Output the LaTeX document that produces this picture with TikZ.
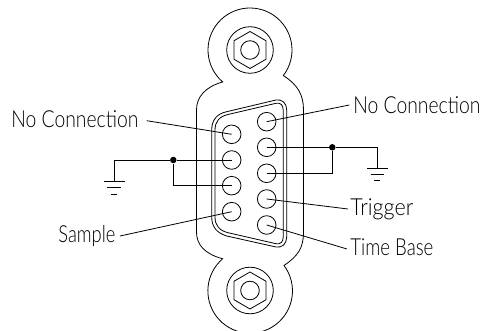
\documentclass[tikz,border=0pt]{standalone}
\usepackage{fontspec}
\usepackage{graphicx}
\setmainfont[UprightFont=* Light]{Lato}
\newcommand{\fitw}[2]{\resizebox{#1pt}{\height}{#2}}
\begin{document}
\begin{tikzpicture}[x=1pt,y=1pt,yscale=-1,
  line width=0.8pt,
  pin/.style={circle,draw,minimum size=18.6pt,inner sep=0pt},
  lbl/.style={anchor=base west,inner sep=0pt,font=\fontsize{23.5}{23.5}\selectfont},
  dot/.style={circle,fill=black,inner sep=0pt,minimum size=6.5pt}]
\useasboundingbox (0,0) rectangle (483,331);
% shell body
\draw (250,50)++(130.5:42) arc[start angle=130.5,end angle=397.5,radius=42]
  .. controls (298,85) and (303.5,95) .. (303.5,110)
  -- (303.5,232)
  .. controls (303.5,248) and (298,256) .. (284,265.5)
  arc[start angle=-36.9,end angle=229.4,radius=42.3]
  .. controls (205,254) and (196.5,245) .. (196.5,232)
  -- (196.5,110)
  .. controls (196.5,97) and (205,87) .. cycle;
% screw heads
\foreach \cy in {50,290.5}{
  \draw (250,\cy) circle[radius=23.3];
  \draw (250,\cy) circle[radius=9.3];
  \draw (250,\cy-18.5) -- (266,\cy-9.25) -- (266,\cy+9.25) -- (250,\cy+18.5) -- (234,\cy+9.25) -- (234,\cy-9.25) -- cycle;
}
% D-sub shell
\draw (211.7,130) .. controls (211.7,120) and (217,113.7) .. (226.7,111.7)
  -- (276,100) .. controls (282,99) and (286.7,103) .. (286.7,110)
  -- (286.7,237) .. controls (286.7,244) and (282,248) .. (276,247)
  -- (226.7,236) .. controls (217,233) and (211.7,227) .. (211.7,217) -- cycle;
\draw (215,130) .. controls (215,122) and (219,116.5) .. (228,114.5)
  -- (276,103.3) .. controls (280.5,102.5) and (283.2,105) .. (283.2,110)
  -- (283.2,237) .. controls (283.2,242) and (280.5,244.5) .. (276,243.7)
  -- (228,232.7) .. controls (219,230.5) and (215,225) .. (215,217) -- cycle;
% pins
\node[pin] (a) at (231.7,134.3) {};
\node[pin] (b) at (231.7,160) {};
\node[pin] (c) at (231.7,185.7) {};
\node[pin] (d) at (231.7,211.7) {};
\node[pin] (e) at (266.7,121.7) {};
\node[pin] (f) at (266.7,147.3) {};
\node[pin] (g) at (266.7,173.3) {};
\node[pin] (h) at (266.7,199) {};
\node[pin] (i) at (266.7,225) {};
% labels
\node[lbl] (nc1) at (11,127.7) {\fitw{127}{No Connection}};
\node[lbl] (nc2) at (353,114) {\fitw{127}{No Connection}};
\node[lbl] (sm) at (58,243) {\fitw{57}{Sample}};
\node[lbl] (tr) at (350,216) {\fitw{63}{Trigger}};
\node[lbl] (tb) at (350,256) {\fitw{83}{Time Base}};
% leaders
\coordinate (l1) at (146.7,120.7);
\coordinate (l2) at (349.3,105);
\coordinate (l3) at (120,236);
\coordinate (l4) at (348,209);
\coordinate (l5) at (347,249);
\draw (l1) -- (a.center);
\draw (l2) -- (e.center);
\draw (l3) -- (d.center);
\draw (l4) -- (h.center);
\draw (l5) -- (i.center);
% junctions and grounds
\node[dot] (j1) at (173.3,160) {};
\node[dot] (j2) at (332.3,147.3) {};
\coordinate (g1) at (114,181);
\coordinate (g2) at (377.3,168.3);
\draw (b.center) -- (j1) -- (g1 |- j1) -- (g1);
\draw (c.center) -- (j1 |- c) -- (j1);
\draw (f.center) -- (j2) -- (g2 |- j2) -- (g2);
\draw (g.center) -- (j2 |- g) -- (j2);
\draw ([xshift=-10.5pt]g1) -- ([xshift=10.5pt]g1);
\draw ([xshift=-6.7pt,yshift=6.5pt]g1) -- ([xshift=6.7pt,yshift=6.5pt]g1);
\draw ([xshift=-3pt,yshift=13pt]g1) -- ([xshift=3pt,yshift=13pt]g1);
\draw ([xshift=-10.5pt]g2) -- ([xshift=10.5pt]g2);
\draw ([xshift=-6.7pt,yshift=6pt]g2) -- ([xshift=6.7pt,yshift=6pt]g2);
\draw ([xshift=-3pt,yshift=12pt]g2) -- ([xshift=3pt,yshift=12pt]g2);
\end{tikzpicture}
\end{document}
